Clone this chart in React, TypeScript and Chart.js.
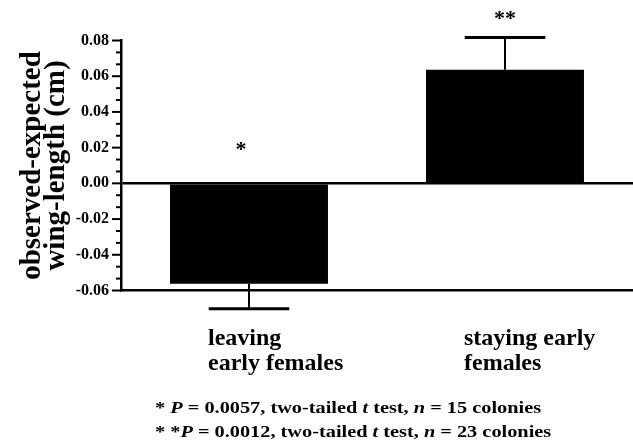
import React, { useEffect, useRef } from 'react';
import { Chart, registerables } from 'chart.js';

Chart.register(...registerables);

const categories = [['leaving', 'early females'], ['staying early', 'females']];
const meanValues = [-0.0562, 0.0636];
const errorValues = [0.014, 0.0181];
const significanceLabels = ['*', '**'];
const significanceValues = [0.0185, 0.092];
const yMin = -0.06;
const yMax = 0.08;
const yStep = 0.02;
const yTitleLines = ['observed-expected', 'wing-length (cm)'];
const footnoteLines = [
  [
    { t: '* ', i: false },
    { t: 'P', i: true },
    { t: ' = 0.0057, two-tailed ', i: false },
    { t: 't', i: true },
    { t: ' test, ', i: false },
    { t: 'n', i: true },
    { t: ' = 15 colonies', i: false },
  ],
  [
    { t: '* *', i: false },
    { t: 'P', i: true },
    { t: ' = 0.0012, two-tailed ', i: false },
    { t: 't', i: true },
    { t: ' test, ', i: false },
    { t: 'n', i: true },
    { t: ' = 23 colonies', i: false },
  ],
];

const SERIF = '"Liberation Serif", "Times New Roman", serif';

const decorPlugin = {
  id: 'decor',
  afterDatasetsDraw(chart: any) {
    const ctx = chart.ctx;
    const x = chart.scales.x;
    const y = chart.scales.y;
    const meta = chart.getDatasetMeta(0);
    ctx.save();
    // error bars
    ctx.strokeStyle = '#000';
    meanValues.forEach((m, i) => {
      const bar = meta.data[i];
      const cx = x.getPixelForValue(i);
      const y0 = y.getPixelForValue(m);
      const end = m < 0 ? m - errorValues[i] : m + errorValues[i];
      const y1 = y.getPixelForValue(end);
      const half = bar.width * 0.255;
      ctx.lineWidth = 2;
      ctx.beginPath();
      ctx.moveTo(cx, y0);
      ctx.lineTo(cx, y1);
      ctx.stroke();
      ctx.lineWidth = 3;
      ctx.beginPath();
      ctx.moveTo(cx - half, y1);
      ctx.lineTo(cx + half, y1);
      ctx.stroke();
    });
    // minor + major ticks on y axis
    const ax = chart.chartArea.left;
    ctx.lineWidth = 2;
    const n = Math.round((yMax - yMin) / (yStep / 3));
    for (let k = 0; k <= n; k++) {
      const v = yMin + (k * yStep) / 3;
      const py = y.getPixelForValue(v);
      const len = k % 3 === 0 ? 9 : 5;
      ctx.beginPath();
      ctx.moveTo(ax - len, py);
      ctx.lineTo(ax, py);
      ctx.stroke();
    }
    // significance stars
    ctx.fillStyle = '#000';
    ctx.font = `bold 22px ${SERIF}`;
    ctx.textAlign = 'center';
    ctx.textBaseline = 'middle';
    significanceLabels.forEach((s, i) => {
      ctx.fillText(s, x.getPixelForValue(i) - (i === 0 ? 8 : 0), y.getPixelForValue(significanceValues[i]));
    });
    // footnotes (wide serif, stretched horizontally)
    ctx.textAlign = 'left';
    ctx.textBaseline = 'alphabetic';
    const sx = 1.27;
    footnoteLines.forEach((segs, li) => {
      ctx.save();
      ctx.translate(155, 413 + li * 24);
      ctx.scale(sx, 1);
      let cx = 0;
      segs.forEach((s) => {
        ctx.font = `${s.i ? 'italic ' : ''}bold 16px ${SERIF}`;
        ctx.fillText(s.t, cx, 0);
        cx += ctx.measureText(s.t).width;
      });
      ctx.restore();
    });
    ctx.restore();
  },
};

export default function App() {
  const ref = useRef<HTMLCanvasElement>(null);
  useEffect(() => {
    if (!ref.current) return;
    const chart = new Chart(ref.current, {
      type: 'bar',
      data: {
        labels: categories as any,
        datasets: [
          {
            data: meanValues,
            backgroundColor: '#000',
            borderWidth: 0,
            categoryPercentage: 1,
            barPercentage: 0.617,
          },
        ],
      },
      options: {
        responsive: false,
        animation: false,
        layout: { padding: { top: 40.5, right: 0, bottom: 0, left: 0 } },
        plugins: { legend: { display: false }, tooltip: { enabled: false } },
        scales: {
          x: {
            grid: { display: false, drawTicks: false },
            border: { display: true, color: '#000', width: 2.5 },
            ticks: {
              color: '#000',
              font: { family: SERIF, weight: 'bold', size: 24, lineHeight: '25px' } as any,
              align: 'start',
              labelOffset: -41,
              padding: 36,
              maxRotation: 0,
              autoSkip: false,
            },
            afterFit: (s: any) => {
              s.height = 443 - 290.5;
              s.paddingLeft = 0;
              s.paddingRight = 0;
            },
          },
          y: {
            min: yMin,
            max: yMax,
            grid: {
              display: true,
              drawTicks: false,
              lineWidth: 2.5,
              color: (c: any) => (c.tick && Math.abs(c.tick.value) < 1e-9 ? '#000' : 'rgba(0,0,0,0)'),
            },
            border: { display: true, color: '#000', width: 2.5 },
            ticks: {
              stepSize: yStep,
              color: '#000',
              padding: 12,
              font: { family: SERIF, weight: 'bold', size: 16 } as any,
              callback: (v: any) => Number(v).toFixed(2),
            },
            title: {
              display: true,
              text: yTitleLines,
              color: '#000',
              font: { family: SERIF, weight: 'bold', size: 29, lineHeight: '24px' } as any,
              padding: { top: 20.5, bottom: 0 },
            },
            afterFit: (s: any) => {
              s.width = 121;
            },
          },
        },
      },
      plugins: [decorPlugin],
    });
    return () => chart.destroy();
  }, []);
  return (
    <div style={{ position: 'fixed', left: 0, top: 0, width: 633, height: 443, background: '#fff' }}>
      <canvas ref={ref} width={633} height={443} style={{ display: 'block' }} />
    </div>
  );
}
